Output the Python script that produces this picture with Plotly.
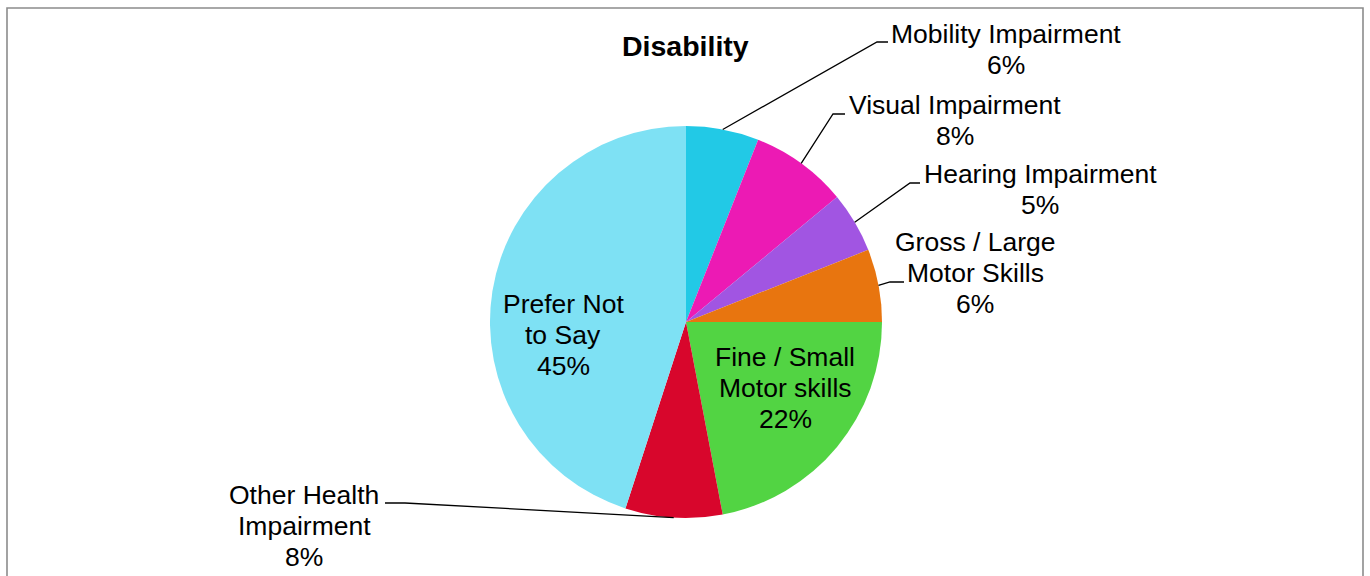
import math
import plotly.graph_objects as go

# Disability breakdown (percent of respondents), drawn clockwise from 12 o'clock
categories = [
    "Mobility Impairment",
    "Visual Impairment",
    "Hearing Impairment",
    "Gross / Large Motor Skills",
    "Fine / Small Motor skills",
    "Other Health Impairment",
    "Prefer Not to Say",
]
percent = [6, 8, 5, 6, 22, 8, 45]

# How each category label wraps onto lines
label_lines = [
    ["Mobility Impairment"],
    ["Visual Impairment"],
    ["Hearing Impairment"],
    ["Gross / Large", "Motor Skills"],
    ["Fine / Small", "Motor skills"],
    ["Other Health", "Impairment"],
    ["Prefer Not", "to Say"],
]

colors = ["#22C9E6", "#EC1AB4", "#A155E2", "#E8750F", "#52D443", "#D8062C", "#7EE1F4"]

# ---- layout geometry (pixels, origin top-left) ----
W, H = 1370, 576
CX, CY, R = 686, 322, 196
FONT = "Liberation Sans, Arial, sans-serif"
FS = 26.5
LINE = 31

# label block: (centre x, first-line y, leader elbow x, elbow y, leader end x) or None for inside labels
label_pos = [
    (1006, 34, 877, 42, 888),
    (955, 105, 833, 114, 845),
    (1040, 174, 910, 183, 920),
    (975, 242, 890, 282, 904),
    (785, 357, None, None, None),
    (304, 495, 405, 503, 385),
    (563, 304, None, None, None),
]

fig = go.Figure()

fig.add_trace(go.Pie(
    labels=categories,
    values=percent,
    sort=False,
    direction="clockwise",
    rotation=0,
    marker=dict(colors=colors, line=dict(width=0)),
    textinfo="none",
    hoverinfo="label+percent",
    showlegend=False,
    domain=dict(x=[(CX - R) / W, (CX + R) / W],
                y=[(H - CY - R) / H, (H - CY + R) / H]),
))

# invisible pixel-space axes for labels and leader lines
fig.update_xaxes(range=[0, W], visible=False, fixedrange=True)
fig.update_yaxes(range=[H, 0], visible=False, fixedrange=True)

total = sum(percent)
cum = 0.0
annotations = []
shapes = []
for cat, val, lines, pos in zip(categories, percent, label_lines, label_pos):
    mid = (cum + val / 2) / total * 2 * math.pi
    cum += val
    cx, y0, ex, ey, end_x = pos
    text_lines = lines + [f"{round(val / total * 100)}%"]
    for i, t in enumerate(text_lines):
        annotations.append(dict(
            x=cx, y=y0 + i * LINE, xref="x", yref="y", text=t, showarrow=False,
            xanchor="center", yanchor="middle",
            font=dict(family=FONT, size=FS, color="#000000"),
        ))
    if ex is not None:
        ax = CX + R * math.sin(mid)
        ay = CY - R * math.cos(mid)
        shapes.append(dict(type="path", xref="x", yref="y",
                           path=f"M {ax:.1f},{ay:.1f} L {ex},{ey} L {end_x},{ey}",
                           line=dict(color="#000000", width=1.3)))

# chart title
annotations.append(dict(
    x=685, y=46, xref="x", yref="y", text="<b>Disability</b>", showarrow=False,
    xanchor="center", yanchor="middle",
    font=dict(family=FONT, size=28.5, color="#000000"),
))

# chart-area border
shapes.append(dict(type="rect", xref="x", yref="y", x0=7, y0=8, x1=1363, y1=600,
                   line=dict(color="#8C8C8C", width=1.6), layer="below"))

fig.update_layout(
    width=W, height=H,
    margin=dict(l=0, r=0, t=0, b=0),
    paper_bgcolor="#FFFFFF",
    plot_bgcolor="#FFFFFF",
    annotations=annotations,
    shapes=shapes,
)

fig.write_html("out.html")
